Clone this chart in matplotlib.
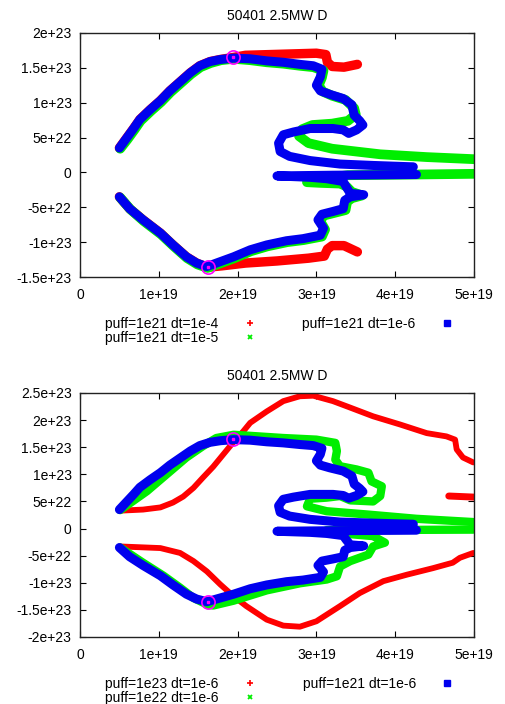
import numpy as np
import matplotlib
matplotlib.use("Agg")
import matplotlib.pyplot as plt
from matplotlib.lines import Line2D
from matplotlib.ticker import FuncFormatter, MultipleLocator

plt.rcParams["font.family"] = ["Liberation Sans", "DejaVu Sans"]
plt.rcParams["font.size"] = 10

XS = 1e19   # x values below are in units of 1e19
YS = 1e23   # y values below are in units of 1e23

TITLE = "50401 2.5MW D"

# ---- puff=1e21 dt=1e-6 (blue, shared by both panels)
blue_up_x = [0.50, 0.59, 0.68, 0.76, 0.89, 1.02, 1.14, 1.27, 1.40, 1.52, 1.65, 1.78, 1.95, 2.16,
             2.37, 2.58, 2.79, 2.96, 3.07, 3.05, 3.00, 3.05, 3.17, 3.34, 3.45, 3.48, 3.55, 3.59,
             3.51, 3.41, 3.34, 3.21, 2.92, 2.71, 2.58, 2.52, 2.54, 2.66, 2.92, 3.30, 3.72, 4.23]
blue_up_y = [0.35, 0.49, 0.63, 0.76, 0.90, 1.03, 1.17, 1.30, 1.43, 1.53, 1.59, 1.62, 1.64, 1.63,
             1.60, 1.58, 1.55, 1.53, 1.48, 1.37, 1.25, 1.17, 1.12, 1.06, 0.97, 0.82, 0.74, 0.68,
             0.61, 0.56, 0.61, 0.63, 0.63, 0.58, 0.54, 0.42, 0.30, 0.23, 0.17, 0.12, 0.10, 0.08]
blue_lo_x = [0.50, 0.63, 0.80, 1.02, 1.18, 1.35, 1.48, 1.61, 1.78, 1.95, 2.16, 2.37, 2.62, 2.83,
             3.05, 3.09, 3.02, 3.07, 3.21, 3.34, 3.36, 3.43, 3.60, 3.43, 3.38, 3.34, 3.13, 2.92,
             2.50, 3.21, 4.27]
blue_lo_y = [-0.35, -0.52, -0.68, -0.87, -1.04, -1.21, -1.30, -1.35, -1.28, -1.21, -1.11, -1.04,
             -0.98, -0.95, -0.90, -0.80, -0.68, -0.60, -0.56, -0.52, -0.40, -0.35, -0.32, -0.30,
             -0.21, -0.13, -0.09, -0.07, -0.05, -0.04, -0.03]

# ---- puff=1e21 dt=1e-5 (green, top panel)
g5_up_x = [0.51, 0.60, 0.69, 0.77, 0.90, 1.03, 1.15, 1.28, 1.41, 1.53, 1.66, 1.79, 1.95, 2.16,
           2.37, 2.58, 2.79, 2.96, 3.09, 3.07, 3.03, 3.08, 3.20, 3.37, 3.48, 3.50, 3.40, 3.20,
           2.95, 2.82, 2.78, 2.90, 3.20, 3.81, 4.40, 5.00]
g5_up_y = [0.34, 0.47, 0.61, 0.74, 0.88, 1.01, 1.15, 1.28, 1.41, 1.51, 1.57, 1.61, 1.63, 1.61,
           1.58, 1.56, 1.53, 1.51, 1.46, 1.36, 1.25, 1.16, 1.10, 1.04, 0.92, 0.83, 0.74, 0.70,
           0.68, 0.62, 0.52, 0.42, 0.34, 0.26, 0.22, 0.19]
g5_lo_x = [0.51, 0.64, 0.81, 1.03, 1.19, 1.36, 1.49, 1.62, 1.79, 1.96, 2.17, 2.38, 2.63, 2.84,
           3.07, 3.11, 3.05, 3.09, 3.23, 3.37, 3.39, 3.45, 3.58, 3.45, 3.38, 3.30, 3.05, 2.88,
           3.10, 3.40, 4.27, 5.00]
g5_lo_y = [-0.36, -0.53, -0.70, -0.89, -1.06, -1.23, -1.32, -1.37, -1.30, -1.23, -1.13, -1.06,
           -1.00, -0.97, -0.92, -0.82, -0.70, -0.62, -0.58, -0.54, -0.42, -0.37, -0.33, -0.28,
           -0.20, -0.16, -0.15, -0.14, -0.08, -0.04, -0.03, -0.02]

# ---- puff=1e21 dt=1e-4 (red, top panel)
r4_up_x = [0.50, 0.59, 0.68, 0.76, 0.89, 1.02, 1.14, 1.27, 1.40, 1.52, 1.65, 1.78, 1.95, 2.10,
           2.40, 2.70, 3.00, 3.12, 3.14, 3.20, 3.35, 3.52]
r4_up_y = [0.35, 0.49, 0.63, 0.76, 0.90, 1.03, 1.17, 1.30, 1.43, 1.53, 1.59, 1.62, 1.65, 1.68,
           1.69, 1.70, 1.71, 1.69, 1.58, 1.52, 1.51, 1.55]
r4_lo_x = [0.50, 0.63, 0.80, 1.02, 1.18, 1.35, 1.48, 1.61, 1.80, 2.10, 2.50, 2.90, 3.10, 3.14,
           3.20, 3.35, 3.52]
r4_lo_y = [-0.35, -0.52, -0.68, -0.87, -1.04, -1.21, -1.30, -1.36, -1.34, -1.30, -1.27, -1.23,
           -1.20, -1.10, -1.05, -1.05, -1.14]

# ---- puff=1e23 dt=1e-6 (red, bottom panel)
r23_up_x = [0.51, 0.80, 1.02, 1.18, 1.31, 1.44, 1.56, 1.69, 1.82, 1.95, 2.07, 2.16, 2.37, 2.58,
            2.79, 2.96, 3.21, 3.43, 3.72, 4.06, 4.40, 4.65, 4.76, 4.78, 4.86, 4.99]
r23_up_y = [0.33, 0.35, 0.39, 0.48, 0.59, 0.75, 0.94, 1.14, 1.37, 1.60, 1.79, 1.95, 2.16, 2.35,
            2.44, 2.45, 2.35, 2.23, 2.07, 1.92, 1.76, 1.70, 1.64, 1.46, 1.31, 1.22]
r23_lo_x = [0.51, 1.02, 1.27, 1.44, 1.61, 1.78, 1.95, 2.11, 2.37, 2.58, 2.79, 3.00, 3.30, 3.55,
            3.85, 4.15, 4.48, 4.73, 4.82, 4.99]
r23_lo_y = [-0.33, -0.36, -0.45, -0.60, -0.79, -1.03, -1.25, -1.43, -1.68, -1.79, -1.81, -1.71,
            -1.43, -1.19, -0.97, -0.85, -0.73, -0.63, -0.54, -0.45]
r23_blob_x = [4.68, 5.00]
r23_blob_y = [0.60, 0.58]
r23_dash_x = [4.75, 5.00]
r23_dash_y = [-0.04, -0.04]

# ---- puff=1e22 dt=1e-6 (green, bottom panel)
g22_up_x = [0.51, 0.85, 1.10, 1.35, 1.56, 1.73, 1.95, 2.16, 2.58, 3.00, 3.24, 3.26, 3.24, 3.30,
            3.51, 3.66, 3.70, 3.83, 3.81, 3.72, 3.43, 3.30, 3.13, 2.92, 2.88, 3.13, 3.64, 4.27,
            4.99]
g22_up_y = [0.34, 0.69, 1.00, 1.31, 1.52, 1.67, 1.73, 1.71, 1.67, 1.64, 1.58, 1.43, 1.27, 1.15,
            1.09, 1.03, 0.87, 0.78, 0.60, 0.50, 0.52, 0.60, 0.57, 0.55, 0.41, 0.32, 0.26, 0.18,
            0.12]
g22_lo_x = [0.51, 0.80, 1.06, 1.27, 1.44, 1.61, 1.69, 1.95, 2.37, 2.79, 3.13, 3.26, 3.30, 3.43,
            3.66, 3.72, 3.87, 3.72, 3.40, 3.17, 3.13, 4.99]
g22_lo_y = [-0.35, -0.63, -0.87, -1.09, -1.28, -1.40, -1.42, -1.33, -1.14, -1.01, -0.94, -0.88,
            -0.70, -0.60, -0.48, -0.33, -0.26, -0.14, -0.10, -0.08, -0.03, -0.02]

# marked points
circle_x = [1.94, 1.62]
circle_y = [1.65, -1.35]

RED = "#ff0000"
GREEN = "#00ee00"
BLUE = "#0000ee"
MAGENTA = "#ff00ff"


def sci(v, pos):
    if abs(v) < 1e-6 * XS:
        return "0"
    return "%g" % v


def band(ax, xs, ys, color, lw):
    ax.plot(np.array(xs) * XS, np.array(ys) * YS, color=color, lw=lw,
            solid_capstyle="round", solid_joinstyle="round")


def style_axes(ax, ylo, yhi):
    ax.set_xlim(0, 5 * XS)
    ax.set_ylim(ylo * YS, yhi * YS)
    ax.xaxis.set_major_locator(MultipleLocator(1 * XS))
    ax.yaxis.set_major_locator(MultipleLocator(0.5 * YS))
    ax.xaxis.set_major_formatter(FuncFormatter(sci))
    ax.yaxis.set_major_formatter(FuncFormatter(sci))
    ax.tick_params(direction="in", length=4.5, width=0.8, top=True, right=True,
                   labelsize=10, colors="black")
    ax.tick_params(axis="y", pad=6)
    ax.tick_params(axis="x", pad=8)
    for s in ax.spines.values():
        s.set_linewidth(1.0)
        s.set_color("#222222")
    ax.set_title(TITLE, fontsize=10, pad=9)


def marks(ax):
    ax.plot(np.array(circle_x) * XS, np.array(circle_y) * YS, ls="none", marker="o",
            ms=9.5, mfc="none", mec=MAGENTA, mew=1.2, zorder=5)
    ax.plot(np.array(circle_x) * XS, np.array(circle_y) * YS, ls="none", marker="s",
            ms=1.5, mfc=MAGENTA, mec=MAGENTA, zorder=5)


def key(labels, y_top):
    handles = [
        Line2D([], [], ls="none", marker="+", ms=4, mew=1.2, color=RED),
        Line2D([], [], ls="none", marker="x", ms=3.5, mew=1.3, color=GREEN),
        Line2D([], [], ls="none", marker="s", ms=4.5, color=BLUE),
    ]
    fig.legend(handles, labels, ncol=2, loc="upper left",
               bbox_to_anchor=(105 / 505, 1 - y_top / 704), frameon=False,
               markerfirst=False, handlelength=2.0, handletextpad=1.25,
               columnspacing=2.8, labelspacing=0.0, borderpad=0, borderaxespad=0,
               fontsize=10)


fig = plt.figure(figsize=(5.05, 7.04), dpi=100)
ax1 = fig.add_axes([80 / 505, 1 - 277 / 704, 394 / 505, 244 / 704])
ax2 = fig.add_axes([80 / 505, 1 - 637 / 704, 394 / 505, 244 / 704])

# top panel: dt scan at puff=1e21
band(ax1, r4_up_x, r4_up_y, RED, 6.8)
band(ax1, r4_lo_x, r4_lo_y, RED, 6.8)
band(ax1, g5_up_x, g5_up_y, GREEN, 7.0)
band(ax1, g5_lo_x, g5_lo_y, GREEN, 7.0)
band(ax1, blue_up_x, blue_up_y, BLUE, 6.5)
band(ax1, blue_lo_x, blue_lo_y, BLUE, 6.5)
marks(ax1)
style_axes(ax1, -1.5, 2.0)

# bottom panel: puff scan at dt=1e-6
band(ax2, r23_up_x, r23_up_y, RED, 4.2)
band(ax2, r23_lo_x, r23_lo_y, RED, 4.2)
band(ax2, r23_blob_x, r23_blob_y, RED, 5.0)
band(ax2, r23_dash_x, r23_dash_y, RED, 2.0)
band(ax2, g22_up_x, g22_up_y, GREEN, 6.0)
band(ax2, g22_lo_x, g22_lo_y, GREEN, 6.0)
band(ax2, blue_up_x, blue_up_y, BLUE, 6.5)
band(ax2, blue_lo_x, blue_lo_y, BLUE, 6.5)
marks(ax2)
style_axes(ax2, -2.0, 2.5)

key(["puff=1e21 dt=1e-4", "puff=1e21 dt=1e-5", "puff=1e21 dt=1e-6"], 317)
key(["puff=1e23 dt=1e-6", "puff=1e22 dt=1e-6", "puff=1e21 dt=1e-6"], 677)

fig.savefig("out.png", dpi=100)
